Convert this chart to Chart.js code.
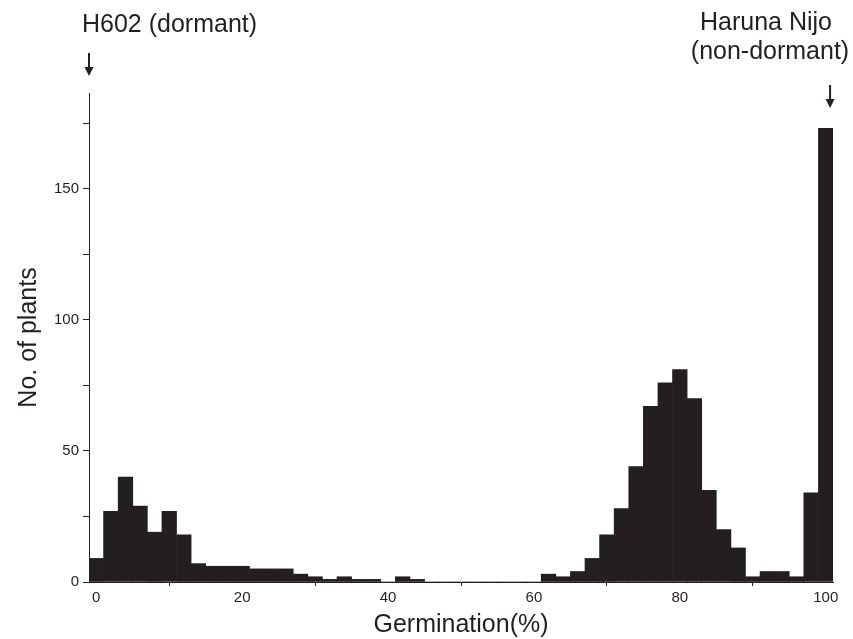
<!DOCTYPE html>
<html lang="en">
<head>
<meta charset="UTF-8">
<title>Germination histogram</title>
<script src="https://cdn.jsdelivr.net/npm/chart.js@4.4.1/dist/chart.umd.min.js"></script>
<style>
    html, body { margin: 0; padding: 0; background: #fff; }
    #contenedor { width: 853px; height: 639px; }
</style>
</head>
<body>
<div id="contenedor"><canvas id="histograma" width="853" height="639"></canvas></div>
<script>
// ==================== DATOS ====================
// centro de cada clase de germinación (%)
const germinacion = [0, 2, 4, 6, 8, 10, 12, 14, 16, 18, 20, 22, 24, 26, 28, 30, 32, 34, 36, 38, 40,
    42, 44, 46, 48, 50, 52, 54, 56, 58, 60, 62, 64, 66, 68, 70, 72, 74, 76, 78, 80,
    82, 84, 86, 88, 90, 92, 94, 96, 98, 100];
// número de plantas en cada clase
const numPlantas = [9, 27, 40, 29, 19, 27, 18, 7, 6, 6, 6, 5, 5, 5, 3, 2, 1, 2, 1, 1, 0,
    2, 1, 0, 0, 0, 0, 0, 0, 0, 0, 3, 2, 4, 9, 18, 28, 44, 67, 76, 81,
    70, 35, 20, 13, 2, 4, 4, 2, 34, 173];
const etiquetasX = [0, 20, 40, 60, 80, 100];
const etiquetasY = [0, 50, 100, 150];
const textoIzq = ['H602 (dormant)'];
const textoDer = ['Haruna Nijo', '(non-dormant)'];

const COLOR = '#231f20';
const FUENTE = '"Liberation Sans", Arial, Helvetica, sans-serif';

// ==================== UTILIDADES ====================
function dibujarFlecha(ctx, x, y1, y2) {
    ctx.save();
    ctx.strokeStyle = COLOR;
    ctx.fillStyle = COLOR;
    ctx.lineWidth = 2;
    ctx.beginPath();
    ctx.moveTo(x, y1);
    ctx.lineTo(x, y2 - 6);
    ctx.stroke();
    ctx.beginPath();
    ctx.moveTo(x - 4.5, y2 - 9);
    ctx.lineTo(x + 4.5, y2 - 9);
    ctx.lineTo(x, y2);
    ctx.closePath();
    ctx.fill();
    ctx.restore();
}

// textos y flechas de los parentales
const anotaciones = {
    id: 'anotaciones',
    afterDraw(chart) {
        const ctx = chart.ctx;
        const sx = chart.scales.x;
        ctx.save();
        ctx.fillStyle = COLOR;
        ctx.font = '25px ' + FUENTE;
        ctx.textBaseline = 'alphabetic';
        ctx.textAlign = 'left';
        ctx.fillText(textoIzq[0], 82, 32);
        ctx.textAlign = 'center';
        ctx.fillText(textoDer[0], 766, 30);
        ctx.fillText(textoDer[1], 770, 59);
        ctx.restore();
        dibujarFlecha(ctx, sx.getPixelForValue(-1), 53, 76);
        dibujarFlecha(ctx, sx.getPixelForValue(100.6), 85, 108);
    }
};

// ==================== GRÁFICO ====================
const puntos = germinacion.map((g, i) => ({ x: g, y: numPlantas[i] }));

new Chart(document.getElementById('histograma').getContext('2d'), {
    type: 'bar',
    data: {
        datasets: [{
            label: 'No. of plants',
            data: puntos,
            backgroundColor: COLOR,
            borderWidth: 0,
            barPercentage: 1,
            categoryPercentage: 1
        }]
    },
    options: {
        responsive: false,
        animation: false,
        devicePixelRatio: 1,
        layout: { padding: { top: 93, right: 20, left: 0, bottom: 0 } },
        plugins: { legend: { display: false }, tooltip: { enabled: false } },
        scales: {
            x: {
                type: 'linear',
                min: -1,
                max: 101,
                offset: false,
                afterFit: s => { s.height = 57; },
                border: { display: true, color: COLOR, width: 1 },
                grid: {
                    offset: false,
                    drawOnChartArea: false,
                    tickLength: 4,
                    color: c => (c.tick && etiquetasX.includes(c.tick.value)) ? 'rgba(0,0,0,0)' : COLOR
                },
                ticks: {
                    stepSize: 10,
                    includeBounds: false,
                    maxRotation: 0,
                    autoSkip: false,
                    padding: 3,
                    color: COLOR,
                    font: { family: FUENTE, size: 15 },
                    callback: v => etiquetasX.includes(v) ? String(v) : ''
                },
                title: {
                    display: true,
                    text: 'Germination(%)',
                    color: COLOR,
                    font: { family: FUENTE, size: 25, lineHeight: 1 },
                    padding: { top: 0, bottom: 1 }
                }
            },
            y: {
                min: 0,
                max: 186.5,
                afterFit: s => { s.width = 89; },
                border: { display: true, color: COLOR, width: 1 },
                grid: { drawOnChartArea: false, tickLength: 6, color: COLOR },
                ticks: {
                    stepSize: 25,
                    includeBounds: false,
                    padding: 4,
                    color: COLOR,
                    font: { family: FUENTE, size: 15 },
                    callback: v => etiquetasY.includes(v) ? String(v) : ''
                },
                title: {
                    display: true,
                    text: 'No. of plants',
                    color: COLOR,
                    font: { family: FUENTE, size: 25, lineHeight: 1 },
                    padding: { top: 17, bottom: 0 }
                }
            }
        }
    },
    plugins: [anotaciones]
});
</script>
</body>
</html>
